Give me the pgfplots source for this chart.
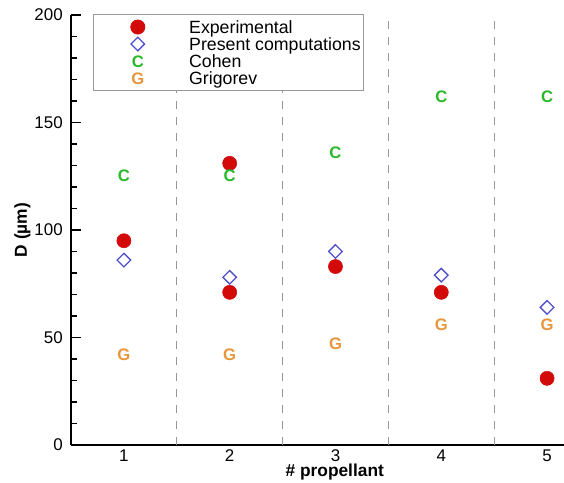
\documentclass[border=0pt]{standalone}
\usepackage{fontspec}
\setmainfont{Liberation Sans}
\usepackage{pgfplots}
\pgfplotsset{compat=1.18}
\definecolor{cred}{RGB}{210,10,10}
\definecolor{cblue}{RGB}{80,80,205}
\definecolor{cgreen}{RGB}{40,185,40}
\definecolor{corange}{RGB}{232,150,60}
\pgfplotsset{myleg/.style={legend image code/.code={\path (0pt,0pt) (69.25pt,0pt); \draw[##1] plot coordinates {(31pt,0pt)};}}}
\begin{document}
\begin{tikzpicture}
\begin{axis}[
  scale only axis,
  width=369.75pt, height=322.5pt,
  xmin=0.5, xmax=5.16, ymin=0, ymax=200,
  axis lines=left,
  axis line style={-, line width=1.1pt, black},
  xtick={1,2,3,4,5},
  ytick={0,50,100,150,200},
  minor y tick num=4,
  x tick style={draw=none},
  y tick style={line width=0.8pt, black},
  major tick length=7.5pt,
  minor tick length=4.5pt,
  tick align=inside,
  /pgf/number format/assume math mode=true,
  ticklabel style={font=\fontsize{12.7}{12.7}\selectfont},
  xticklabel style={anchor=center, inner ysep=0pt, yshift=-8pt},
  yticklabel style={anchor=east, inner xsep=0pt, xshift=-6pt},
  xlabel={\bfseries \# propellant},
  ylabel={\bfseries D (µm)},
  every axis x label/.style={at={(axis description cs:0.535,0)}, anchor=center, inner ysep=0pt, yshift=-20.5pt, font=\fontsize{13}{13}\selectfont},
  every axis y label/.style={at={(axis description cs:-0.0987,0.5)}, anchor=center, rotate=90, font=\fontsize{13}{13}\selectfont},
  text mark as node=true,
  legend cell align=left,
  legend style={at={(axis description cs:0.0446,1.002)}, anchor=north west,
    draw=gray!80, line width=0.6pt, fill=white,
    inner xsep=2pt, inner ysep=3pt,
    font=\fontsize{13.3}{12.75}\selectfont,
    nodes={inner xsep=0pt, inner ysep=0pt, text height=11pt, text depth=1.75pt, anchor=west}},
]
\coordinate (SW) at (rel axis cs:0,0);
\coordinate (NE) at (rel axis cs:1,1);
\addplot[forget plot, gray!80, line width=0.6pt, dash pattern=on 6pt off 6pt] coordinates {(1.5,0) (1.5,200)};
\addplot[forget plot, gray!80, line width=0.6pt, dash pattern=on 6pt off 6pt] coordinates {(2.5,0) (2.5,200)};
\addplot[forget plot, gray!80, line width=0.6pt, dash pattern=on 6pt off 6pt] coordinates {(3.5,0) (3.5,200)};
\addplot[forget plot, gray!80, line width=0.6pt, dash pattern=on 6pt off 6pt] coordinates {(4.5,0) (4.5,200)};
\addplot[only marks, myleg, mark=*, mark size=5.3pt, color=cred, mark options={fill=cred, draw=cred}]
  coordinates {(1,95) (2,131) (2,71) (3,83) (4,71) (5,31)};
\addlegendentry{Experimental}
\addplot[only marks, myleg, mark=square, mark size=3.6pt, color=cblue, mark options={rotate=45, line width=1pt, fill=white}]
  coordinates {(1,86) (2,78) (3,90) (4,79) (5,64)};
\addlegendentry{Present computations}
\addplot[only marks, myleg, mark=text, text mark={C}, color=cgreen,
  text mark style={font=\bfseries\fontsize{12.5}{12.5}\selectfont, text=cgreen, inner sep=0pt, anchor=center}]
  coordinates {(1,125) (2,125) (3,136) (4,162) (5,162)};
\addlegendentry{Cohen}
\addplot[only marks, myleg, mark=text, text mark={G}, color=corange,
  text mark style={font=\bfseries\fontsize{12.5}{12.5}\selectfont, text=corange, inner sep=0pt, anchor=center}]
  coordinates {(1,42) (2,42) (3,47) (4,56) (5,56)};
\addlegendentry{Grigorev}
\end{axis}
\pgfresetboundingbox
\path ([shift={(-53.25pt,-28.5pt)}]SW) rectangle ([shift={(0pt,11.25pt)}]NE);
\end{tikzpicture}
\end{document}
